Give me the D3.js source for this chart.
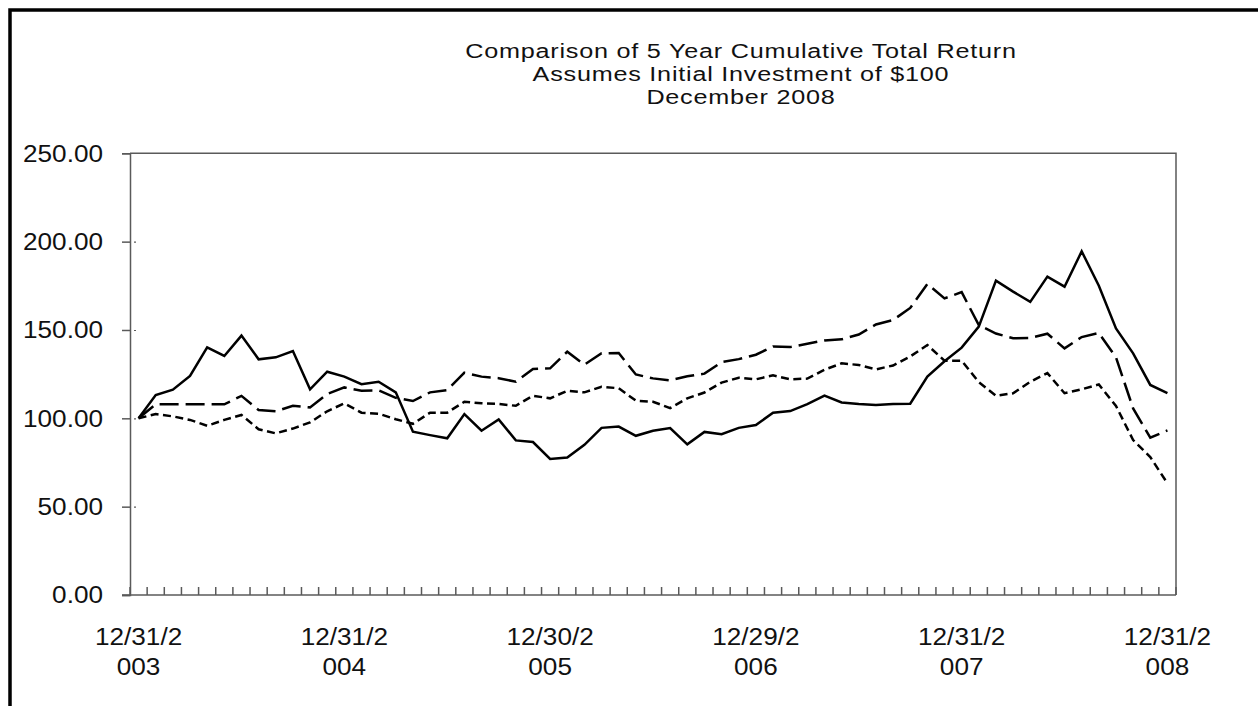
<!DOCTYPE html>
<html><head><meta charset="utf-8">
<script src="https://cdn.jsdelivr.net/npm/d3@7/dist/d3.min.js"></script>
<style>html,body{margin:0;padding:0;background:#fff;overflow:hidden}</style>
</head><body>
<svg id="c" width="1258" height="706"></svg>
<script>
// ---------- data ----------
const titleLines = ["Comparison of 5 Year Cumulative Total Return", "Assumes Initial Investment of $100", "December 2008"];
const yTicks = [0, 50, 100, 150, 200, 250];
const tickLabels = ["12/31/2003", "12/31/2004", "12/30/2005", "12/29/2006", "12/31/2007", "12/31/2008"];
const tickIndex = [0, 12, 24, 36, 48, 60];
const months = d3.range(61); // monthly observations, Dec 2003 .. Dec 2008

const companyReturn = [100, 113.2, 116.2, 124, 140.2, 135.3, 146.8, 133.4, 134.5, 138.1, 116.4, 126.4,
  123.6, 119.3, 120.7, 114.7, 92.4, 90.5, 88.7, 102.4, 93, 99.4, 87.5, 86.6,
  77, 77.8, 85, 94.6, 95.3, 90.1, 93, 94.5, 85.3, 92.3, 91, 94.6,
  96.2, 103.2, 104.1, 108, 112.8, 109, 108.1, 107.6, 108.1, 108.3, 123.6, 132.3,
  140, 151.9, 177.9, 171.7, 165.9, 180.2, 174.5, 194.5, 175, 150.9, 136.8, 118.9, 114.2];
const indexLongDash = [100, 107.9, 107.9, 107.9, 107.9, 107.9, 112.7, 104.7, 104, 107.1, 106.2, 113.8,
  117.5, 115.6, 115.8, 111.6, 109.8, 114.7, 116, 125.8, 123.6, 122.7, 120.7, 127.9,
  128.3, 137.7, 130.4, 136.8, 137, 124.8, 122.6, 121.5, 123.8, 125.3, 131.8, 133.5,
  136, 140.7, 140.3, 142.2, 144.1, 144.7, 147.4, 153.1, 155.6, 162.5, 176, 167.9,
  171.4, 152.8, 148, 145.3, 145.5, 147.9, 139.6, 146, 148.3, 134.5, 105.6, 89, 93.2];
const indexShortDash = [100, 102.4, 101.1, 99.1, 95.8, 99.1, 101.9, 93.8, 91.5, 94.2, 97.7, 104,
  108.5, 103.2, 102.6, 99.5, 96.9, 103.2, 103.2, 109.4, 108.5, 108.1, 107.1, 112.8,
  111.3, 115.6, 114.7, 117.9, 117, 110, 109.4, 105.8, 111.3, 114.6, 120.2, 123,
  122.1, 124.3, 122.1, 122.5, 127.5, 131.1, 130.2, 127.7, 129.9, 135, 141.5, 132.6,
  132.6, 120.5, 112.8, 114.2, 120.7, 125.6, 114.2, 116.4, 119.2, 107, 87.7, 78.1, 63.2];

// ---------- layout ----------
const FONT = "'Liberation Sans', Arial, sans-serif";
const FS = 24, SX = 1.09;
const plot = {left: 130, right: 1176, top: 153.3, bottom: 595};
const AXIS = "#5a5a5a";
const TEXT = "#111";

const svg = d3.select("#c");
svg.append("rect").attr("width", 1258).attr("height", 706).attr("fill", "#fff");
svg.append("rect").attr("x", 10).attr("y", 10).attr("width", 1400).attr("height", 900)
  .attr("fill", "none").attr("stroke", "#000").attr("stroke-width", 3.5);

const band = d3.scaleBand().domain(months).range([plot.left, plot.right]);
const x = i => band(i) + band.bandwidth() / 2;
const y = d3.scaleLinear().domain([0, 250]).range([plot.bottom, plot.top]);

function stretchedText(g, tx, ty, str, anchor, fs = FS, sx = SX, ls = 0) {
  return g.append("text").attr("transform", `translate(${tx},${ty}) scale(${sx},1)`)
    .attr("text-anchor", anchor).attr("font-family", FONT).attr("font-size", fs)
    .attr("letter-spacing", ls).attr("fill", TEXT).text(str);
}

// title
const tg = svg.append("g");
titleLines.forEach((t, k) => stretchedText(tg, 741, 57.5 + k * 23, t, "middle", 21, 1.2, 0.64));

// plot border (top & right)
svg.append("path").attr("d", `M${plot.left},${plot.top}H${plot.right}V${plot.bottom}`)
  .attr("fill", "none").attr("stroke", AXIS).attr("stroke-width", 1.5);

// y axis
const yAxis = d3.axisLeft(y).tickValues(yTicks).tickSize(8).tickPadding(19)
  .tickFormat(d3.format(".2f"));
const yg = svg.append("g").attr("transform", `translate(${plot.left},0)`).call(yAxis);
yg.select(".domain").attr("stroke", AXIS).attr("stroke-width", 1.5);
yg.selectAll(".tick line").attr("stroke", AXIS).attr("stroke-width", 1.5);
yg.selectAll(".tick text").attr("font-family", FONT).attr("font-size", FS).attr("fill", TEXT)
  .attr("x", -27 / SX).attr("transform", `scale(${SX},1)`).attr("dy", "0.33em");
yg.selectAll(".tick").filter(d => d > 0 && d < 250).append("line")
  .attr("x1", 4).attr("x2", 6).attr("stroke", AXIS).attr("stroke-width", 1.2);

// x axis line
svg.append("line").attr("x1", plot.left - 8).attr("x2", plot.right)
  .attr("y1", plot.bottom).attr("y2", plot.bottom).attr("stroke", AXIS).attr("stroke-width", 1.5);
// x tick marks at category boundaries (pointing inside)
const bounds = months.map(i => band(i)).concat([band(months[months.length - 1]) + band.bandwidth()]);
svg.append("g").selectAll("line").data(bounds).join("line")
  .attr("x1", d => d).attr("x2", d => d).attr("y1", plot.bottom).attr("y2", plot.bottom - 8)
  .attr("stroke", AXIS).attr("stroke-width", 1.5);
// x labels (wrapped like the original)
const xg = svg.append("g");
tickLabels.forEach((lab, k) => {
  const cx = x(tickIndex[k]);
  stretchedText(xg, cx, 645, lab.slice(0, 7), "middle");
  stretchedText(xg, cx, 675, lab.slice(7), "middle");
});

// series
const line = d3.line().x((d, i) => x(months[i])).y(d => y(d));
const series = [
  {values: indexShortDash, dash: "8,4.5"},
  {values: indexLongDash, dash: "19,7"},
  {values: companyReturn, dash: null}
];
svg.append("g").selectAll("path").data(series).join("path")
  .attr("d", s => line(s.values)).attr("fill", "none").attr("stroke", "#000")
  .attr("stroke-width", 2.5).attr("stroke-linejoin", "miter")
  .attr("stroke-dasharray", s => s.dash);
</script>
</body></html>
